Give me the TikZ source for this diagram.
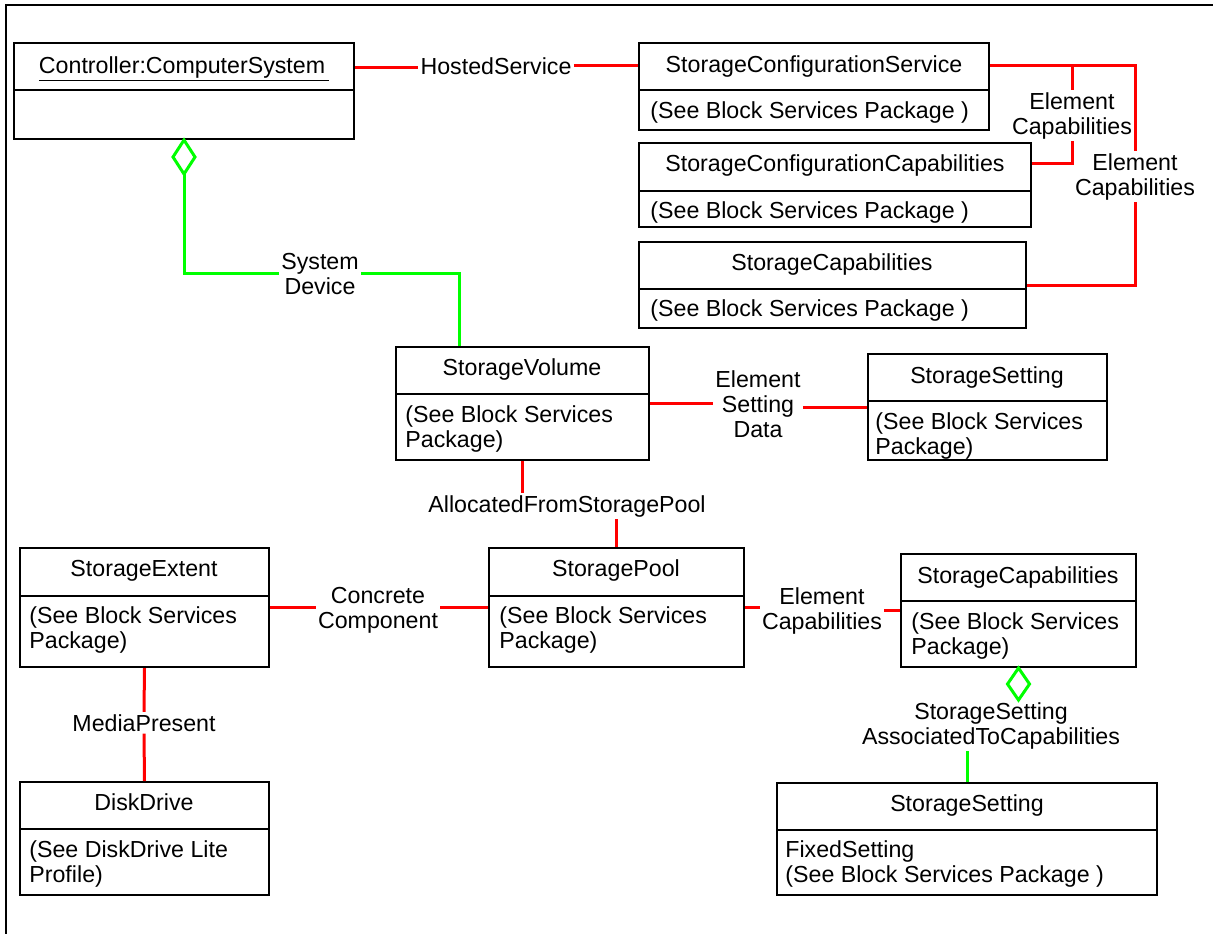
\documentclass[tikz,border=0pt]{standalone}
\usepackage{fontspec}
\setmainfont{Liberation Sans}
\usetikzlibrary{fit}
\definecolor{ured}{RGB}{255,0,0}
\definecolor{ugreen}{RGB}{0,255,0}
\newcommand\dfont{\fontsize{11.6}{12.5}\selectfont}
\tikzset{
  boxframe/.style={draw=black, line width=1pt, inner sep=0pt},
  divline/.style={draw=black, line width=1pt},
  redline/.style={draw=ured, line width=1.5pt},
  greenline/.style={draw=ugreen, line width=1.5pt},
  frameline/.style={draw=black, line width=1pt},
  ttl/.style={anchor=base, inner sep=0pt, font=\dfont},
  bodytxt/.style={anchor=base west, inner sep=0pt, align=left, font=\dfont},
  lab/.style={anchor=base, inner sep=1pt, align=center, font=\dfont},
}
\begin{document}
\begin{tikzpicture}[x=0.5pt,y=-0.5pt]
\useasboundingbox (0,0) rectangle (1213,934);
% frame
\draw[frameline] (1213,5) -- (6,5) -- (6,934);

% boxes
\node[boxframe, fit={(14,43)(354,139)}] (ctrl) {};
\draw[divline] (ctrl.west |- 0,90) -- (ctrl.east |- 0,90);
\node[ttl] (ctrl-t) at (184,73) {\underline{Controller:ComputerSystem\,}};

\node[boxframe, fit={(639,43)(989,130)}] (scs) {};
\draw[divline] (scs.west |- 0,90) -- (scs.east |- 0,90);
\node[ttl] (scs-t) at (814,72) {StorageConfigurationService};
\node[bodytxt] (scs-b) at (650,118) {(See Block Services Package )};

\node[boxframe, fit={(639,143)(1031,227)}] (scc) {};
\draw[divline] (scc.west |- 0,191) -- (scc.east |- 0,191);
\node[ttl] (scc-t) at (835,171) {StorageConfigurationCapabilities};
\node[bodytxt] (scc-b) at (650,218) {(See Block Services Package )};

\node[boxframe, fit={(639,242)(1026,328)}] (sc1) {};
\draw[divline] (sc1.west |- 0,289) -- (sc1.east |- 0,289);
\node[ttl] (sc1-t) at (832,270) {StorageCapabilities};
\node[bodytxt] (sc1-b) at (650,316) {(See Block Services Package )};

\node[boxframe, fit={(396,347)(649,460)}] (sv) {};
\draw[divline] (sv.west |- 0,394) -- (sv.east |- 0,394);
\node[ttl] (sv-t) at (522,375) {StorageVolume};
\node[bodytxt] (sv-b) at (405,447) {(See Block Services\\Package)};

\node[boxframe, fit={(868,354)(1107,460)}] (ss1) {};
\draw[divline] (ss1.west |- 0,401) -- (ss1.east |- 0,401);
\node[ttl] (ss1-t) at (987,383) {StorageSetting};
\node[bodytxt] (ss1-b) at (875,454) {(See Block Services\\Package)};

\node[boxframe, fit={(489,548)(744,667)}] (sp) {};
\draw[divline] (sp.west |- 0,596) -- (sp.east |- 0,596);
\node[ttl] (sp-t) at (616,576) {StoragePool};
\node[bodytxt] (sp-b) at (499,648) {(See Block Services\\Package)};

\node[boxframe, fit={(20,548)(269,667)}] (se) {};
\draw[divline] (se.west |- 0,596) -- (se.east |- 0,596);
\node[ttl] (se-t) at (144,576) {StorageExtent};
\node[bodytxt] (se-b) at (29,648) {(See Block Services\\Package)};

\node[boxframe, fit={(901,554)(1136,667)}] (sc2) {};
\draw[divline] (sc2.west |- 0,601) -- (sc2.east |- 0,601);
\node[ttl] (sc2-t) at (1018,583) {StorageCapabilities};
\node[bodytxt] (sc2-b) at (911,654) {(See Block Services\\Package)};

\node[boxframe, fit={(20,782)(269,895)}] (dd) {};
\draw[divline] (dd.west |- 0,829) -- (dd.east |- 0,829);
\node[ttl] (dd-t) at (144,810) {DiskDrive};
\node[bodytxt] (dd-b) at (29,882) {(See DiskDrive Lite\\Profile)};

\node[boxframe, fit={(777,783)(1157,895)}] (ss2) {};
\draw[divline] (ss2.west |- 0,830) -- (ss2.east |- 0,830);
\node[ttl] (ss2-t) at (967,811) {StorageSetting};
\node[bodytxt] (ss2-b) at (785,882) {FixedSetting\\(See Block Services Package )};

% labels
\node[lab] (hs) at (496,74) {HostedService};
\node[lab] (ec1) at (1072,134) {Element\\Capabilities};
\node[lab] (ec2) at (1135,195) {Element\\Capabilities};
\node[lab] (sd) at (320,294) {System\\Device};
\node[lab] (esd) at (758,437) {Element\\Setting\\Data};
\node[lab] (afsp) at (567,512) {AllocatedFromStoragePool};
\node[lab] (cc) at (378,628) {Concrete\\Component};
\node[lab] (ec3) at (822,629) {Element\\Capabilities};
\node[lab] (mp) at (144,731) {MediaPresent};
\node[lab] (ssa) at (991,744) {StorageSetting\\AssociatedToCapabilities};

% connectors
\draw[redline] (ctrl.east |- 0,67) -- (hs.west |- 0,67);
\draw[redline] (hs.east |- 0,65) -- (scs.west |- 0,65);

\draw[redline] (scs.east |- 0,65) -| (ec2.north);
\draw[redline] (ec2.south) |- (sc1.east |- 0,285);
\draw[redline] (ec1.north |- 0,65) -- (ec1.north);
\draw[redline] (ec1.south) |- (scc.east |- 0,163);

\coordinate (ctrl-dia) at ([yshift=-17pt]ctrl.south);
\draw[greenline] (ctrl.south) -- ++(11,17) -- ++(-11,17) -- ++(-11,-17) -- cycle;
\draw[greenline] (ctrl-dia) |- (sd.west |- 0,273);
\draw[greenline] (sd.east |- 0,273) -| (sv.north -| 459,0);

\draw[redline] (sv.east |- 0,403) -- (esd.west |- 0,403);
\draw[redline] (esd.east |- 0,407) -- (ss1.west |- 0,407);

\draw[redline] (sv.south) -- (afsp.north -| sv.south);
\draw[redline] (afsp.south -| sp.north) -- (sp.north);

\draw[redline] (se.east |- 0,607) -- (cc.west |- 0,607);
\draw[redline] (cc.east |- 0,607) -- (sp.west |- 0,607);

\draw[redline] (sp.east |- 0,607) -- (ec3.west |- 0,607);
\draw[redline] (ec3.east |- 0,610) -- (sc2.west |- 0,610);

\draw[redline] (se.south) -- (mp.north);
\draw[redline] (mp.south) -- (dd.north);

\draw[greenline] (sc2.south) -- ++(11,16) -- ++(-11,16) -- ++(-11,-16) -- cycle;
\draw[greenline] (ssa.south -| ss2.north) -- (ss2.north);
\end{tikzpicture}
\end{document}
